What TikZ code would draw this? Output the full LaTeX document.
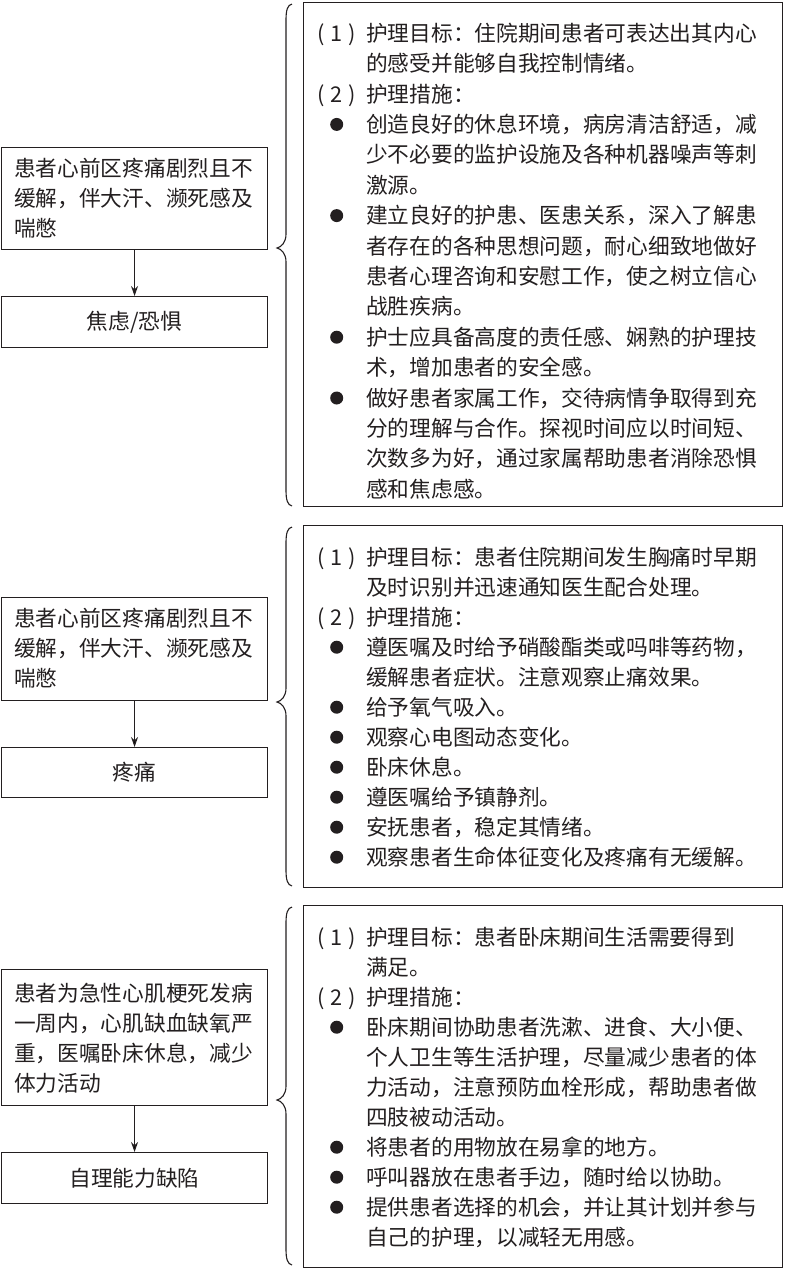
\documentclass[tikz,border=0pt]{standalone}
\usepackage{fontspec}
\newfontfamily\cjk{Noto Sans CJK SC}
\usetikzlibrary{arrows.meta}
\definecolor{ink}{RGB}{35,31,32}
\newcommand\pone{\makebox[50pt][l]{\hspace{1pt}(\hspace{6pt}1\hspace{6pt})}}
\newcommand\ptwo{\makebox[50pt][l]{\hspace{1pt}(\hspace{6pt}2\hspace{6pt})}}
\newcommand\blt{\makebox[50pt][l]{\hspace{14pt}\tikz[baseline=-8pt]\fill[ink] (0,0) circle (6.5pt);}}
\newcommand\ind{\hspace*{50pt}}
\newcommand\brc[3]{%
  \draw[brc] (292,#1) .. controls (287.5,#1+1) and (286,#1+6) .. (286,#1+16)
    -- (286,#2-14) .. controls (286,#2-5) and (281,#2-1) .. (277,#2)
    .. controls (281,#2+1) and (286,#2+5) .. (286,#2+14)
    -- (286,#3-16) .. controls (286,#3-6) and (287.5,#3-1) .. (292,#3);}
\tikzset{
  boxs/.style={draw=ink, line width=1.1pt, inner sep=0pt, anchor=north west,
    font=\cjk\fontsize{21.7}{30}\selectfont, text=ink},
  txt/.style={font=\cjk\fontsize{21.7}{30}\selectfont, align=left, inner sep=0pt,
    anchor=north west, text=ink},
  arr/.style={draw=ink, line width=1.1pt, -{Stealth[length=10pt,width=7pt]}},
  brc/.style={draw=ink, line width=1.1pt},
}
\begin{document}
\begin{tikzpicture}[x=1pt,y=-1pt]
\useasboundingbox (0,0) rectangle (785,1270);
% ---------- section 1 ----------
\node[boxs, minimum width=266pt, minimum height=102pt] (a1) at (1,147) {};
\node[txt] (a1t) at (14,154) {\rule{0pt}{22pt}患者心前区疼痛剧烈且不\\缓解，伴大汗、濒死感及\\喘憋};
\node[boxs, minimum width=266pt, minimum height=51pt] (b1) at (1,296) {焦虑/恐惧};
\draw[arr] (a1.south) -- (b1.north);
\brc{4}{248}{506}
\node[boxs, minimum width=479pt, minimum height=504pt] (r1) at (303,2) {};
\node[txt, font=\cjk\fontsize{21.7}{30.4}\selectfont] (r1t) at (316,19) {\rule{0pt}{22pt}\pone 护理目标：住院期间患者可表达出其内心\\
\ind 的感受并能够自我控制情绪。\\
\ptwo 护理措施：\\
\blt 创造良好的休息环境，病房清洁舒适，减\\
\ind 少不必要的监护设施及各种机器噪声等刺\\
\ind 激源。\\
\blt 建立良好的护患、医患关系，深入了解患\\
\ind 者存在的各种思想问题，耐心细致地做好\\
\ind 患者心理咨询和安慰工作，使之树立信心\\
\ind 战胜疾病。\\
\blt 护士应具备高度的责任感、娴熟的护理技\\
\ind 术，增加患者的安全感。\\
\blt 做好患者家属工作，交待病情争取得到充\\
\ind 分的理解与合作。探视时间应以时间短、\\
\ind 次数多为好，通过家属帮助患者消除恐惧\\
\ind 感和焦虑感。};
% ---------- section 2 ----------
\node[boxs, minimum width=266pt, minimum height=103pt] (a2) at (1,597) {};
\node[txt] (a2t) at (14,604) {\rule{0pt}{22pt}患者心前区疼痛剧烈且不\\缓解，伴大汗、濒死感及\\喘憋};
\node[boxs, minimum width=266pt, minimum height=50pt] (b2) at (1,747) {疼痛};
\draw[arr] (a2.south) -- (b2.north);
\brc{527}{702}{886}
\node[boxs, minimum width=479pt, minimum height=362pt] (r2) at (303,525) {};
\node[txt] (r2t) at (316,543) {\rule{0pt}{22pt}\pone 护理目标：患者住院期间发生胸痛时早期\\
\ind 及时识别并迅速通知医生配合处理。\\
\ptwo 护理措施：\\
\blt 遵医嘱及时给予硝酸酯类或吗啡等药物，\\
\ind 缓解患者症状。注意观察止痛效果。\\
\blt 给予氧气吸入。\\
\blt 观察心电图动态变化。\\
\blt 卧床休息。\\
\blt 遵医嘱给予镇静剂。\\
\blt 安抚患者，稳定其情绪。\\
\blt 观察患者生命体征变化及疼痛有无缓解。};
% ---------- section 3 ----------
\node[boxs, minimum width=266pt, minimum height=136pt] (a3) at (1,969) {};
\node[txt] (a3t) at (14,979) {\rule{0pt}{22pt}患者为急性心肌梗死发病\\一周内，心肌缺血缺氧严\\重，医嘱卧床休息，减少\\体力活动};
\node[boxs, minimum width=266pt, minimum height=51pt] (b3) at (1,1152) {自理能力缺陷};
\draw[arr] (a3.south) -- (b3.north);
\brc{907}{1100}{1265}
\node[boxs, minimum width=479pt, minimum height=362pt] (r3) at (303,905) {};
\node[txt] (r3t) at (316,923) {\rule{0pt}{22pt}\pone 护理目标：患者卧床期间生活需要得到\\
\ind 满足。\\
\ptwo 护理措施：\\
\blt 卧床期间协助患者洗漱、进食、大小便、\\
\ind 个人卫生等生活护理，尽量减少患者的体\\
\ind 力活动，注意预防血栓形成，帮助患者做\\
\ind 四肢被动活动。\\
\blt 将患者的用物放在易拿的地方。\\
\blt 呼叫器放在患者手边，随时给以协助。\\
\blt 提供患者选择的机会，并让其计划并参与\\
\ind 自己的护理，以减轻无用感。};
\end{tikzpicture}
\end{document}
